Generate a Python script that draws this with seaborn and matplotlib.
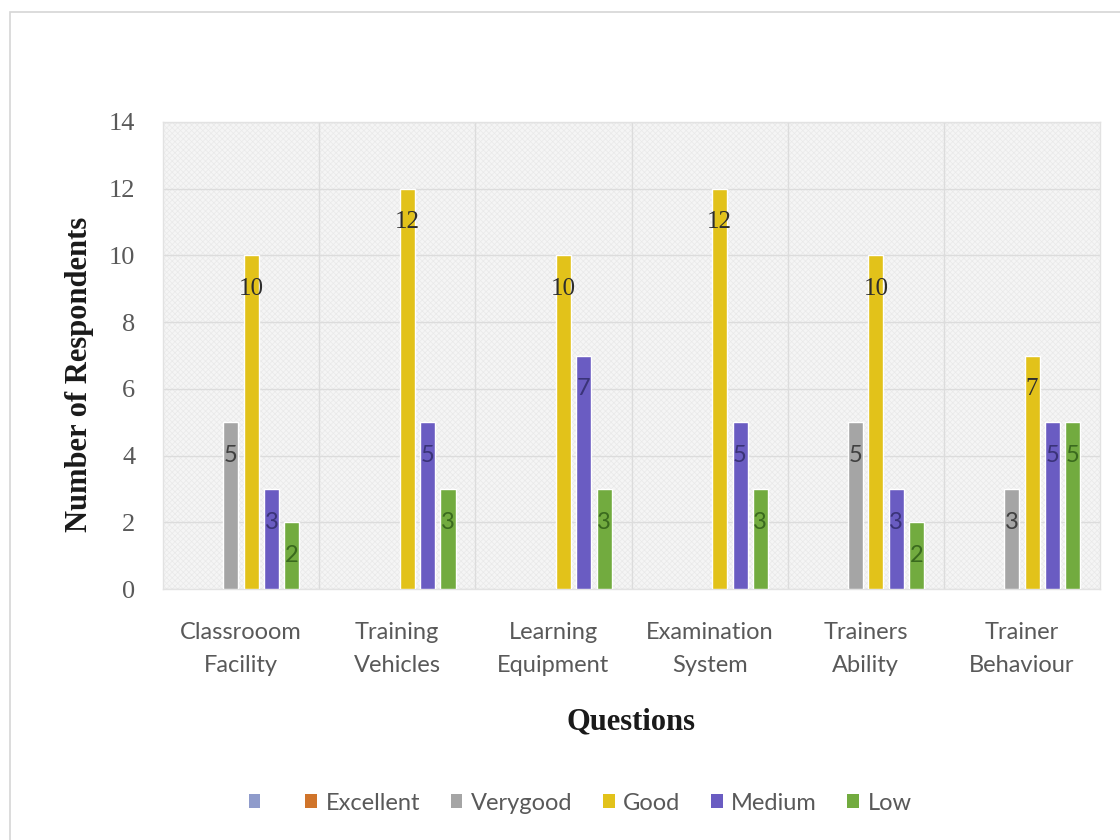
import matplotlib
matplotlib.use("Agg")
import matplotlib.pyplot as plt
from matplotlib.patches import Rectangle, Patch
import seaborn as sns
import pandas as pd

# Survey data
questions = ["Classrooom\nFacility", "Training\nVehicles", "Learning\nEquipment",
             "Examination\nSystem", "Trainers\nAbility", "Trainer\nBehaviour"]
series = [" ", "Excellent", "Verygood", "Good", "Medium", "Low"]
blank = [0, 0, 0, 0, 0, 0]
excellent = [0, 0, 0, 0, 0, 0]
verygood = [5, 0, 0, 0, 5, 3]
good = [10, 12, 10, 12, 10, 7]
medium = [3, 5, 7, 5, 3, 5]
low = [2, 3, 3, 3, 2, 5]

colors = ["#8f9bcb", "#d0742a", "#a5a5a5", "#e2c21a", "#6a5cc2", "#72ab3f"]
label_colors = ["#3a3a5a", "#5a3010", "#404040", "#2e2e2e", "#3a3378", "#3a6a1e"]

values = [blank, excellent, verygood, good, medium, low]
rows = []
for s, vals in zip(series, values):
    for q, v in zip(questions, vals):
        rows.append({"Question": q, "Rating": s, "Count": v})
df = pd.DataFrame(rows)

sns.set_theme(style="white")
plt.rcParams["hatch.linewidth"] = 0.5
fig = plt.figure(figsize=(11.2, 8.4), dpi=100)
fig.patch.set_facecolor("white")
ax = fig.add_axes([163 / 1120, 1 - 589 / 840, 937 / 1120, 467 / 840])

# chart frame
fig.patches.append(Rectangle((10 / 1120, -0.1), 1.2, 1 - 12 / 840 + 0.1,
                             transform=fig.transFigure, fill=False,
                             edgecolor="#d6d6d6", linewidth=1.2, zorder=0))

# textured plot area
ax.set_facecolor("#f5f5f5")
ax.patch.set_hatch("xxxxxx")
ax.patch.set_edgecolor("#e9e9e9")

sns.barplot(data=df, x="Question", y="Count", hue="Rating", hue_order=series,
            order=questions, palette=colors, width=0.78, gap=0.26,
            saturation=1, ax=ax, legend=False, zorder=3)

# value labels inside bar ends
for i, cont in enumerate(ax.containers):
    for bar in cont:
        h = bar.get_height()
        if h <= 0:
            continue
        if series[i] == "Good":
            fam, size = "Liberation Serif", 18
        else:
            fam, size = "Lato", 17
        ax.text(bar.get_x() + bar.get_width() / 2, h - 1, f"{h:g}",
                ha="center", va="center", fontsize=size, color=label_colors[i],
                family=fam, zorder=4)

ax.set_ylim(0, 14)
ax.set_xlim(-0.5, len(questions) - 0.5)
ax.set_yticks(range(0, 15, 2))
ax.set_xticks(range(len(questions)))
ax.set_xticklabels(questions, fontsize=17, color="#595959", family="Lato",
                   linespacing=1.7)
ax.set_yticklabels([str(t) for t in range(0, 15, 2)], fontsize=19,
                   color="#595959", family="Liberation Serif")
ax.tick_params(axis="x", length=0, pad=24)
ax.tick_params(axis="y", length=0, pad=20)

ax.grid(axis="y", color="#dcdcdc", linewidth=1, zorder=1)
for xb in [k + 0.5 for k in range(len(questions) - 1)]:
    ax.axvline(xb, color="#dcdcdc", linewidth=1, zorder=1)
ax.set_axisbelow(True)
for sp in ax.spines.values():
    sp.set_color("#e2e2e2")
    sp.set_linewidth(1)

ax.set_xlabel("Questions", fontsize=22, fontweight="bold", family="Liberation Serif",
              color="#1a1a1a")
ax.xaxis.set_label_coords(0.5, (589 - 722) / 467)
ax.xaxis.label.set_va("center")
ax.set_ylabel("Number of Respondents", fontsize=22, fontweight="bold",
              family="Liberation Serif", color="#1a1a1a")
ax.yaxis.set_label_coords((80 - 163) / 937, (589 - 374) / 467)
ax.yaxis.label.set_va("center")

handles = [Patch(facecolor=c, edgecolor="none") for c in colors]
fig.legend(handles, series, loc="center", bbox_to_anchor=(580 / 1120, 1 - 803 / 840),
           ncol=6, frameon=False, handlelength=0.5, handleheight=0.5,
           handletextpad=0.35, columnspacing=1.3,
           prop={"family": "Lato", "size": 17}, labelcolor="#595959")

fig.savefig("out.png", dpi=100)
